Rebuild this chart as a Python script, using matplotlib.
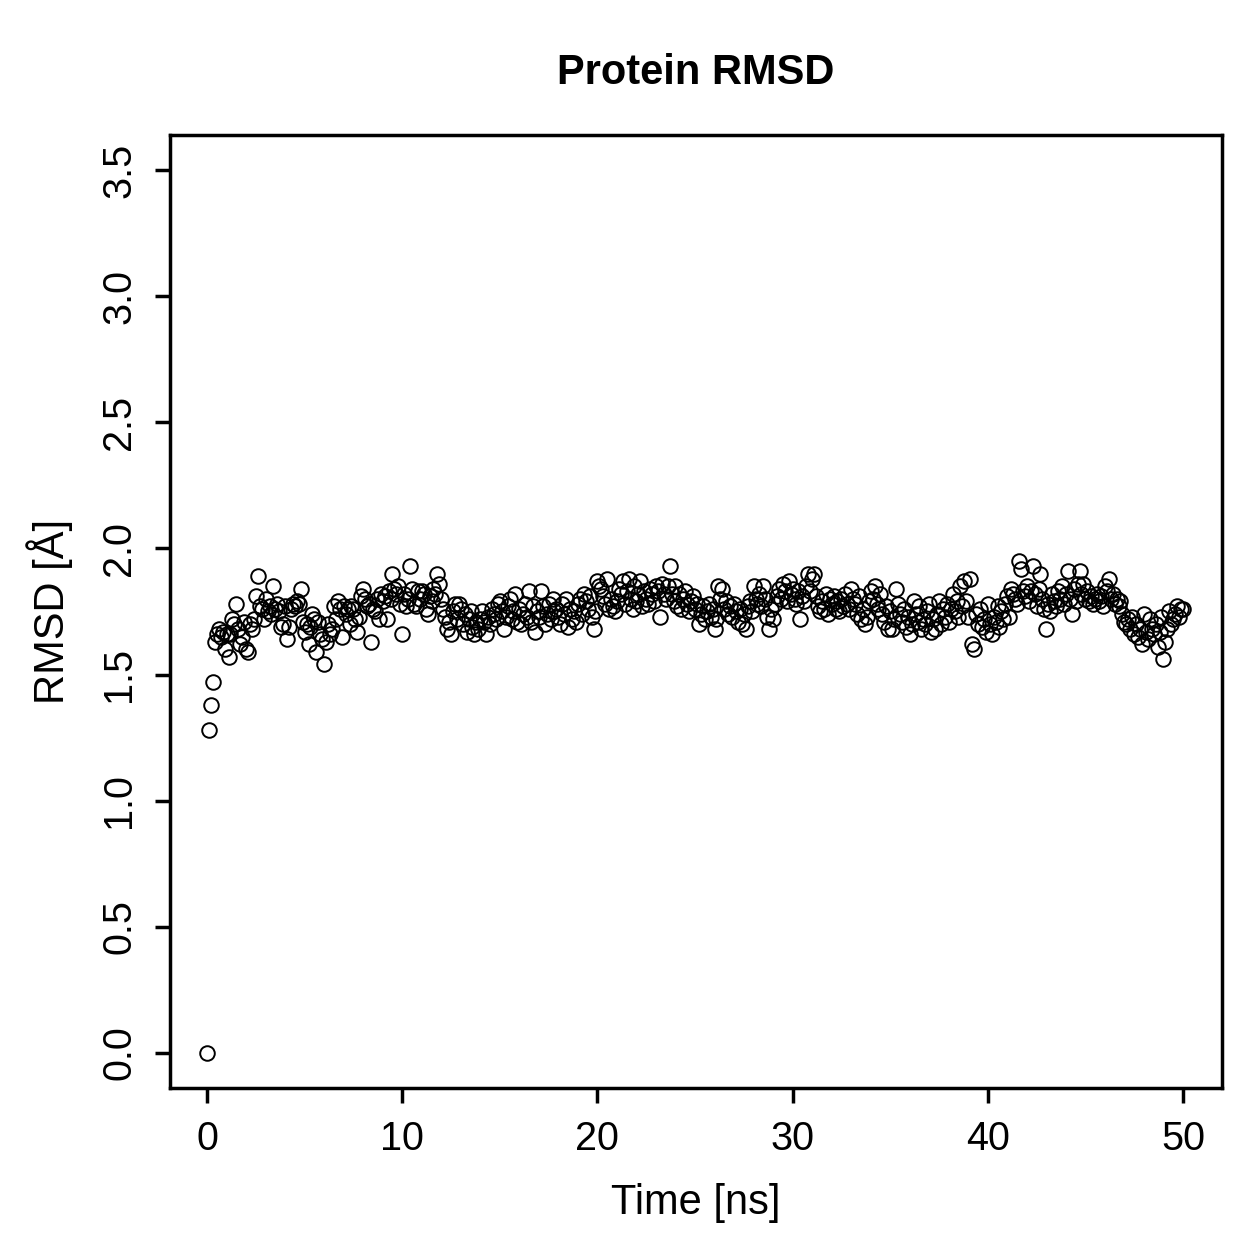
import numpy as np
import matplotlib
matplotlib.use("Agg")
import matplotlib.pyplot as plt

plt.rcParams['font.family'] = ['Liberation Sans', 'DejaVu Sans']

# RMSD de la proteína, un valor cada 0.1 ns (filas de 1 ns)
rmsd = [
    0.00, 1.28, 1.38, 1.47, 1.63, 1.66, 1.68, 1.65, 1.67, 1.60,
    1.66, 1.57, 1.66, 1.72, 1.70, 1.78, 1.68, 1.62, 1.65, 1.71,
    1.60, 1.59, 1.70, 1.68, 1.72, 1.81, 1.89, 1.77, 1.76, 1.72,
    1.80, 1.75, 1.77, 1.74, 1.85, 1.76, 1.78, 1.75, 1.69, 1.70,
    1.77, 1.64, 1.69, 1.76, 1.78, 1.77, 1.79, 1.78, 1.84, 1.71,
    1.67, 1.70, 1.62, 1.69, 1.74, 1.72, 1.59, 1.71, 1.66, 1.64,
    1.54, 1.63, 1.70, 1.66, 1.68, 1.77, 1.72, 1.79, 1.76, 1.65,
    1.77, 1.74, 1.76, 1.70, 1.77, 1.76, 1.72, 1.67, 1.73, 1.81,
    1.84, 1.80, 1.77, 1.78, 1.63, 1.76, 1.75, 1.80, 1.72, 1.82,
    1.79, 1.81, 1.72, 1.83, 1.80, 1.90, 1.84, 1.82, 1.85, 1.78,
    1.66, 1.82, 1.77, 1.80, 1.93, 1.84, 1.78, 1.77, 1.83, 1.80,
    1.83, 1.82, 1.76, 1.74, 1.81, 1.79, 1.84, 1.82, 1.90, 1.86,
    1.80, 1.76, 1.73, 1.68, 1.71, 1.66, 1.75, 1.78, 1.72, 1.78,
    1.76, 1.70, 1.74, 1.67, 1.72, 1.75, 1.69, 1.66, 1.71, 1.68,
    1.72, 1.75, 1.71, 1.66, 1.73, 1.70, 1.76, 1.74, 1.72, 1.78,
    1.79, 1.75, 1.68, 1.73, 1.77, 1.80, 1.72, 1.75, 1.82, 1.71,
    1.76, 1.70, 1.74, 1.78, 1.73, 1.83, 1.71, 1.77, 1.67, 1.75,
    1.73, 1.83, 1.77, 1.70, 1.74, 1.78, 1.72, 1.80, 1.75, 1.76,
    1.73, 1.70, 1.78, 1.74, 1.80, 1.69, 1.76, 1.72, 1.75, 1.71,
    1.78, 1.80, 1.74, 1.82, 1.79, 1.76, 1.81, 1.73, 1.68, 1.75,
    1.87, 1.85, 1.84, 1.81, 1.78, 1.88, 1.76, 1.80, 1.77, 1.75,
    1.79, 1.84, 1.82, 1.87, 1.78, 1.83, 1.88, 1.80, 1.76, 1.85,
    1.79, 1.82, 1.87, 1.77, 1.83, 1.80, 1.78, 1.84, 1.82, 1.79,
    1.85, 1.83, 1.73, 1.86, 1.82, 1.80, 1.85, 1.93, 1.82, 1.79,
    1.85, 1.77, 1.82, 1.76, 1.80, 1.83, 1.78, 1.75, 1.79, 1.81,
    1.76, 1.78, 1.70, 1.74, 1.77, 1.72, 1.75, 1.78, 1.73, 1.76,
    1.68, 1.72, 1.85, 1.80, 1.84, 1.76, 1.79, 1.74, 1.77, 1.73,
    1.78, 1.75, 1.71, 1.76, 1.70, 1.74, 1.68, 1.77, 1.79, 1.75,
    1.85, 1.80, 1.78, 1.82, 1.77, 1.85, 1.80, 1.73, 1.68, 1.76,
    1.72, 1.78, 1.81, 1.84, 1.80, 1.86, 1.83, 1.79, 1.87, 1.82,
    1.84, 1.80, 1.78, 1.83, 1.72, 1.81, 1.79, 1.85, 1.90, 1.83,
    1.88, 1.90, 1.81, 1.77, 1.75, 1.79, 1.76, 1.82, 1.74, 1.80,
    1.78, 1.81, 1.76, 1.79, 1.75, 1.80, 1.77, 1.82, 1.78, 1.76,
    1.84, 1.80, 1.78, 1.74, 1.81, 1.72, 1.76, 1.70, 1.73, 1.79,
    1.83, 1.80, 1.85, 1.78, 1.76, 1.82, 1.74, 1.71, 1.77, 1.68,
    1.75, 1.68, 1.72, 1.84, 1.78, 1.74, 1.71, 1.76, 1.69, 1.73,
    1.66, 1.70, 1.79, 1.74, 1.71, 1.77, 1.68, 1.72, 1.70, 1.75,
    1.78, 1.67, 1.72, 1.68, 1.74, 1.79, 1.70, 1.76, 1.73, 1.78,
    1.71, 1.76, 1.82, 1.75, 1.79, 1.73, 1.85, 1.77, 1.87, 1.79,
    1.73, 1.88, 1.62, 1.60, 1.74, 1.70, 1.76, 1.69, 1.72, 1.67,
    1.78, 1.70, 1.66, 1.73, 1.71, 1.77, 1.69, 1.75, 1.72, 1.78,
    1.81, 1.73, 1.84, 1.82, 1.80, 1.78, 1.95, 1.92, 1.83, 1.81,
    1.85, 1.79, 1.83, 1.93, 1.82, 1.77, 1.84, 1.90, 1.80, 1.76,
    1.68, 1.78, 1.75, 1.82, 1.79, 1.77, 1.83, 1.80, 1.85, 1.78,
    1.82, 1.91, 1.80, 1.74, 1.84, 1.79, 1.86, 1.91, 1.82, 1.86,
    1.80, 1.83, 1.79, 1.81, 1.78, 1.80, 1.82, 1.79, 1.81, 1.77,
    1.85, 1.83, 1.88, 1.80, 1.82, 1.78, 1.80, 1.77, 1.79, 1.74,
    1.71, 1.70, 1.72, 1.68, 1.73, 1.66, 1.70, 1.65, 1.68, 1.62,
    1.74, 1.67, 1.64, 1.72, 1.68, 1.66, 1.70, 1.61, 1.67, 1.73,
    1.56, 1.63, 1.68, 1.75, 1.70, 1.72, 1.74, 1.77, 1.73, 1.76,
    1.76,
]
dt = 0.1  # ns entre fotogramas
tiempo = np.arange(len(rmsd)) * dt

x_ticks = [0, 10, 20, 30, 40, 50]
y_ticks = [0.0, 0.5, 1.0, 1.5, 2.0, 2.5, 3.0, 3.5]

fig = plt.figure(figsize=(12.59, 12.59), dpi=100)
ax = fig.add_axes([0.135, 0.1358, 0.8356, 0.757])

ax.plot(tiempo, rmsd, linestyle='none', marker='o', markersize=10.5,
        markerfacecolor='none', markeredgecolor='black', markeredgewidth=1.4)

ax.set_xlim(-1.9, 52)
ax.set_ylim(-0.14, 3.64)
ax.set_xticks(x_ticks)
ax.set_xticklabels([str(t) for t in x_ticks])
ax.set_yticks(y_ticks)
ax.set_yticklabels([f"{v:.1f}" for v in y_ticks], rotation=90, va='center')

for s in ax.spines.values():
    s.set_linewidth(2.5)
ax.tick_params(axis='both', direction='out', length=11, width=2.5,
               labelsize=28.5, colors='black')
ax.tick_params(axis='x', pad=12)
ax.tick_params(axis='y', pad=12)

ax.set_xlabel('Time [ns]', fontsize=30, va='center')
ax.xaxis.set_label_coords(0.5, -0.1207)
ax.set_ylabel('RMSD [Å]', fontsize=30, va='center')
ax.yaxis.set_label_coords(-0.114, 0.5)
ax.set_title('Protein RMSD', fontsize=30, fontweight='bold', va='center', y=1.056)

fig.savefig('out.png', dpi=100)
